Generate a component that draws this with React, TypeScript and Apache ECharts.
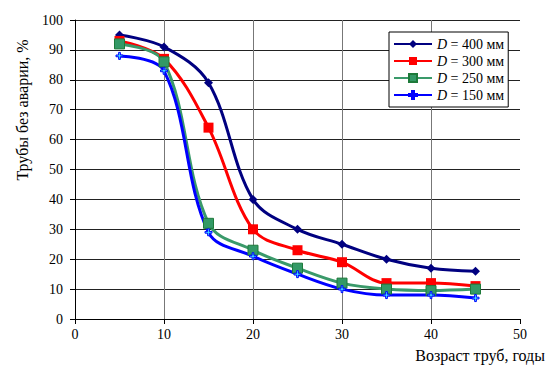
import React, { useEffect, useRef } from "react";
import * as echarts from "echarts";

const years = [5, 10, 15, 20, 25, 30, 35, 40, 45];
const d400 = [95, 91, 79, 40, 30, 25, 20, 17, 16];
const d300 = [93, 87, 64, 30, 23, 19, 12, 12, 11];
const d250 = [92, 86, 32, 23, 17, 12, 10, 9.5, 10];
const d150 = [88, 83, 29, 21, 15, 10, 8, 8, 7];
const seriesNames = ["400", "300", "250", "150"];
const yTitle = "Трубы без аварии, %";
const xTitle = "Возраст труб, годы";

const FONT = "'Liberation Serif', 'Times New Roman', serif";

export default function App() {
  const ref = useRef<HTMLDivElement>(null);
  useEffect(() => {
    document.body.style.margin = "0";
    const chart = echarts.init(ref.current!, undefined, { renderer: "svg" });
    const pts = (arr: number[]) => years.map((x, i) => [x, arr[i]]);
    const plus =
      "path://M3,0 L5,0 L5,3 L8,3 L8,5 L5,5 L5,8 L3,8 L3,5 L0,5 L0,3 L3,3 Z";
    const mk = (name: string, data: number[], color: string, symbol: string, size: number, itemStyle: any) => ({
      name: "D" + name,
      type: "line",
      data: pts(data),
      smooth: 0.35,
      symbol,
      symbolSize: size,
      lineStyle: { color, width: 3 },
      itemStyle,
      z: 3,
    });
    chart.setOption({
      animation: false,
      grid: { left: 75, right: 36, top: 20, bottom: 59 },
      graphic: [
        {
          type: "text",
          x: 22,
          y: 110,
          rotation: Math.PI / 2,
          style: {
            text: yTitle,
            fontFamily: FONT,
            fontSize: 16,
            fill: "#000",
            align: "center",
            verticalAlign: "middle",
          },
        },
      ],
      legend: {
        orient: "vertical",
        left: 389,
        top: 32,
        itemWidth: 38,
        itemHeight: 10,
        itemGap: 3,
        padding: [5, 4, 5, 4],
        borderColor: "#000",
        borderWidth: 1,
        backgroundColor: "#fff",
        formatter: (n: string) => "{i|D} = " + n.slice(1) + " мм",
        textStyle: {
          fontFamily: FONT,
          fontSize: 14,
          color: "#000",
          rich: { i: { fontStyle: "italic", fontFamily: FONT, fontSize: 14, color: "#000" } },
        },
      },
      xAxis: {
        type: "value",
        min: 0,
        max: 50,
        interval: 10,
        name: xTitle,
        nameLocation: "end",
        nameGap: 25,
        nameTextStyle: {
          fontFamily: FONT,
          fontSize: 16,
          color: "#000",
          align: "right",
          verticalAlign: "top",
          padding: [28, 0, 0, 0],
        },
        axisLine: { lineStyle: { color: "#000", width: 1 } },
        axisTick: { show: true, inside: false, length: 5, lineStyle: { color: "#000" } },
        axisLabel: { fontFamily: FONT, fontSize: 14, color: "#000", margin: 8 },
        splitLine: {
          show: true,
          lineStyle: { color: ["#777", "#777", "#777", "#777", "#777", "rgba(0,0,0,0)"], width: 1 },
        },
      },
      yAxis: {
        type: "value",
        min: 0,
        max: 100,
        interval: 10,
        axisLine: { show: true, lineStyle: { color: "#000", width: 1 } },
        axisTick: { show: true, inside: false, length: 5, lineStyle: { color: "#000" } },
        axisLabel: { fontFamily: FONT, fontSize: 14, color: "#000", margin: 12 },
        splitLine: { show: true, lineStyle: { color: "#222", width: 1 } },
      },
      series: [
        mk(seriesNames[0], d400, "#000080", "diamond", 9, { color: "#000080" }),
        mk(seriesNames[1], d300, "#ff0000", "rect", 10, { color: "#ff0000" }),
        mk(seriesNames[2], d250, "#3a9a6a", "rect", 10, { color: "#339966", borderColor: "#1e7a3a", borderWidth: 1 }),
        mk(seriesNames[3], d150, "#0000ff", plus, 7, { color: "#40e0ff", borderColor: "#0000ff", borderWidth: 1 }),
      ],
    });
    return () => chart.dispose();
  }, []);
  return <div ref={ref} style={{ width: 556, height: 378 }} />;
}
